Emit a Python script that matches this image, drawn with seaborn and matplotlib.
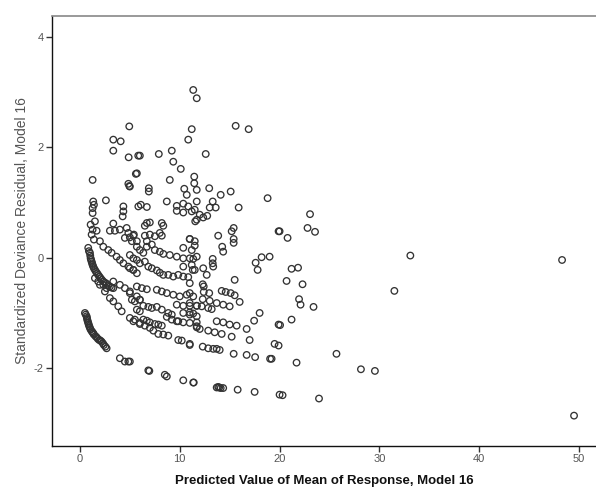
import matplotlib
matplotlib.use("Agg")
import matplotlib.pyplot as plt
import seaborn as sns
import pandas as pd

# ---- data: (predicted mean, standardized deviance residual) ----
top_region = [
    (4.94, 2.38), (3.34, 2.14), (4.08, 2.11), (3.34, 1.94), (4.88, 1.82), (5.84, 1.85),
    (11.35, 3.04), (11.7, 2.89), (11.2, 2.33), (10.85, 2.14), (6.0, 1.85), (7.9, 1.88),
    (9.2, 1.94), (9.35, 1.74), (10.1, 1.61), (5.7, 1.53), (9.0, 1.41), (11.45, 1.47),
    (11.45, 1.35), (11.7, 1.23), (10.45, 1.25), (10.7, 1.14), (5.0, 1.29), (6.9, 1.26),
    (6.9, 1.2), (6.1, 0.96), (6.7, 0.92), (8.7, 1.02), (9.7, 0.94), (10.35, 0.98),
    (10.85, 0.93), (11.7, 1.02), (15.6, 2.39), (16.9, 2.33), (12.6, 1.88), (12.95, 1.26),
    (14.1, 1.14), (15.1, 1.2), (18.8, 1.08), (13.3, 1.02), (13.0, 0.91), (13.6, 0.91),
    (11.5, 0.87), (15.9, 0.91), (12.0, 0.78), (12.35, 0.73), (12.75, 0.76), (11.55, 0.66),
    (15.4, 0.54), (15.2, 0.48), (15.4, 0.34), (15.4, 0.27), (13.85, 0.4), (19.9, 0.48),
    (11.0, 0.34), (11.5, 0.22), (14.25, 0.2),
]
mid_region = [
    (14.35, 0.11), (11.35, -0.02), (11.3, -0.22), (11.5, -0.22), (12.35, -0.19), (12.7, -0.31),
    (13.3, -0.02), (13.3, -0.1), (13.35, -0.16), (18.2, 0.01), (17.6, -0.09), (17.8, -0.22),
    (15.5, -0.4), (11.0, -0.46), (12.3, -0.48), (12.4, -0.52), (11.0, -0.64), (12.4, -0.62),
    (12.95, -0.64), (14.2, -0.6), (14.6, -0.62), (15.1, -0.64), (15.5, -0.68), (16.0, -0.8),
    (12.3, -0.75), (13.0, -0.78), (13.7, -0.82), (14.35, -0.85), (15.0, -0.88), (11.0, -0.82),
    (11.7, -0.87), (12.2, -0.88), (12.85, -0.91), (13.2, -0.93), (11.0, -0.99), (11.35, -1.01),
    (18.0, -1.0), (17.45, -1.14), (16.7, -1.29), (17.0, -1.49), (13.7, -1.15), (14.35, -1.17),
    (15.0, -1.21), (15.7, -1.23), (11.7, -1.26), (12.0, -1.29), (12.85, -1.32), (13.5, -1.35),
    (14.2, -1.38), (15.2, -1.43), (11.0, -1.58), (12.3, -1.61), (12.85, -1.64), (13.35, -1.65),
    (13.7, -1.65), (14.0, -1.67), (15.4, -1.74), (16.7, -1.76), (17.55, -1.8), (19.05, -1.83),
    (19.5, -1.56), (19.9, -1.59), (11.4, -2.26), (13.7, -2.35), (13.85, -2.34), (13.95, -2.35),
    (14.1, -2.36), (14.35, -2.36), (15.8, -2.39), (17.5, -2.43), (20.0, -2.48), (19.9, -1.21),
]
right_region = [
    (23.05, 0.79), (20.0, 0.48), (20.8, 0.36), (22.8, 0.54), (23.55, 0.47), (33.1, 0.04),
    (48.3, -0.04), (19.0, 0.02), (21.2, -0.2), (21.85, -0.18), (20.7, -0.42), (22.3, -0.48),
    (31.5, -0.6), (21.95, -0.75), (22.1, -0.85), (23.4, -0.89), (21.2, -1.12), (20.05, -1.22),
    (19.2, -1.83), (21.7, -1.9), (25.7, -1.74), (28.15, -2.02), (29.55, -2.05), (20.3, -2.49),
    (23.95, -2.55), (49.5, -2.86),
]
center_region = [
    (9.7, 0.85), (10.35, 0.82), (11.2, 0.84), (11.7, 0.69), (6.7, 0.63), (7.0, 0.64),
    (6.5, 0.58), (8.2, 0.63), (8.35, 0.58), (8.0, 0.45), (5.35, 0.4), (6.5, 0.4),
    (7.0, 0.42), (7.5, 0.39), (8.2, 0.4), (11.0, 0.34), (11.5, 0.3), (6.7, 0.3),
    (6.7, 0.2), (7.2, 0.24), (5.7, 0.2), (6.0, 0.14), (6.35, 0.09), (7.5, 0.14),
    (8.0, 0.11), (8.35, 0.07), (9.0, 0.05), (9.7, 0.02), (10.35, -0.01), (11.0, -0.01),
    (11.7, 0.02), (10.35, 0.18), (11.2, 0.14), (5.0, 0.05), (5.35, -0.01), (5.7, -0.04),
    (6.0, -0.1), (6.5, -0.07), (6.85, -0.16), (7.2, -0.19), (7.7, -0.23), (8.0, -0.27),
    (8.35, -0.31), (8.85, -0.31), (9.35, -0.34), (9.85, -0.31), (10.35, -0.34), (10.85, -0.35),
    (10.35, -0.16), (11.2, -0.13), (5.0, -0.19), (5.35, -0.22), (5.7, -0.52), (6.2, -0.55),
    (6.7, -0.57), (7.7, -0.58), (8.2, -0.61), (8.7, -0.64), (9.35, -0.67), (10.0, -0.7),
    (10.7, -0.67), (11.35, -0.7), (5.0, -0.64), (5.2, -0.76), (5.5, -0.79), (6.0, -0.76),
    (6.35, -0.87), (6.85, -0.89), (7.2, -0.91), (7.7, -0.89), (8.2, -0.94), (8.85, -1.0),
    (9.2, -1.03), (9.7, -0.85), (10.35, -0.87), (11.0, -0.87), (11.7, -0.87), (10.35, -1.0),
    (11.0, -1.03), (11.7, -1.06), (5.7, -0.94), (6.0, -0.97), (6.35, -1.12), (6.7, -1.14),
    (7.0, -1.17), (7.5, -1.2), (7.85, -1.21), (8.2, -1.23), (8.7, -1.07), (9.2, -1.12),
    (9.7, -1.15), (10.35, -1.17), (11.0, -1.18), (11.7, -1.17), (5.0, -1.09), (5.35, -1.15),
    (6.0, -1.2), (6.5, -1.23), (7.0, -1.27), (7.35, -1.32), (7.85, -1.38), (8.35, -1.39),
    (8.85, -1.41), (9.85, -1.49), (10.2, -1.5), (11.0, -1.56), (11.7, -1.24), (9.85, -1.15),
    (5.0, -1.88), (6.85, -2.04), (6.95, -2.05), (8.5, -2.12), (8.7, -2.15), (10.35, -2.22),
    (11.35, -2.26),
]
left_region = [
    (1.27, 1.41), (5.6, 1.52), (4.85, 1.34), (4.95, 1.3), (1.33, 1.02), (1.4, 0.96),
    (1.27, 0.9), (1.27, 0.81), (2.6, 1.04), (4.35, 0.93), (4.35, 0.84), (4.28, 0.75),
    (5.85, 0.93), (1.5, 0.66), (1.07, 0.6), (1.27, 0.51), (1.67, 0.49), (1.17, 0.42),
    (1.4, 0.33), (3.34, 0.62), (3.0, 0.49), (3.5, 0.49), (4.0, 0.51), (4.68, 0.54),
    (4.85, 0.45), (4.5, 0.36), (5.0, 0.37), (5.4, 0.42), (5.7, 0.3), (5.2, 0.3),
    (0.83, 0.18), (1.0, 0.09), (1.07, -0.01), (1.17, -0.07), (1.27, -0.13), (1.4, -0.19),
    (1.6, -0.25), (1.83, -0.31), (2.07, -0.37), (2.34, -0.43), (2.67, -0.47), (3.0, -0.52),
    (3.34, -0.55), (2.0, 0.3), (2.34, 0.2), (2.84, 0.14), (3.17, 0.09), (3.67, 0.02),
    (4.0, -0.04), (4.35, -0.1), (4.85, -0.16), (5.35, -0.22), (5.7, -0.28), (1.5, -0.37),
    (1.83, -0.43), (2.34, -0.49), (2.67, -0.55), (2.0, -0.49), (2.5, -0.61), (3.0, -0.73),
    (3.34, -0.79), (3.84, -0.88), (4.18, -0.97), (3.34, -0.43), (4.0, -0.49), (4.5, -0.55),
    (5.0, -0.61), (5.7, -0.7), (6.0, -0.76), (5.5, -1.12), (6.0, -1.18),
    (0.9, 0.12), (1.03, 0.04), (1.12, -0.04), (1.22, -0.1), (1.33, -0.16), (1.5, -0.22),
    (1.72, -0.28), (1.95, -0.34), (2.2, -0.4), (2.5, -0.45), (2.84, -0.5), (3.17, -0.54),
]
low_curve = [
    (0.5, -1.0), (0.67, -1.06), (0.73, -1.12), (0.83, -1.18), (0.93, -1.24), (1.07, -1.3),
    (1.27, -1.35), (1.4, -1.39), (1.67, -1.44), (1.93, -1.49), (2.17, -1.52), (2.4, -1.58),
    (2.67, -1.64), (4.0, -1.82), (4.5, -1.88), (4.85, -1.88),
    (0.58, -1.03), (0.7, -1.09), (0.78, -1.15), (0.88, -1.21), (1.0, -1.27), (1.17, -1.33),
    (1.33, -1.37), (1.55, -1.42), (1.8, -1.47), (2.05, -1.5), (2.3, -1.55), (2.55, -1.61),
]

groups = [top_region, mid_region, right_region, center_region, left_region, low_curve]
pred = [p[0] for g in groups for p in g]
resid = [p[1] for g in groups for p in g]
df = pd.DataFrame({"pred": pred, "resid": resid})

x_ticks = [0, 10, 20, 30, 40, 50]
y_ticks = [-2, 0, 2, 4]

sns.set_style("white")
plt.rcParams["font.family"] = ["Liberation Sans", "DejaVu Sans"]
plt.rcParams["axes.unicode_minus"] = False

fig = plt.figure(figsize=(5.96, 4.87), dpi=100)
ax = fig.add_axes([52 / 596, 41 / 487, 544 / 596, 430 / 487])

sns.scatterplot(data=df, x="pred", y="resid", ax=ax, marker="o", s=22,
                facecolors="none", edgecolor="#333333", linewidth=0.95, legend=False)

ax.set_xlim(-2.8, 51.7)
ax.set_ylim(-3.41, 4.38)
ax.set_xticks(x_ticks)
ax.set_yticks(y_ticks)
ax.tick_params(axis="both", which="major", direction="out", length=4, width=1,
               color="#333333", labelsize=8, labelcolor="#555555", pad=2,
               bottom=True, left=True, top=False, right=False)
for side in ["left", "bottom"]:
    ax.spines[side].set_color("#111111")
    ax.spines[side].set_linewidth(1.0)
ax.spines["top"].set_color("#888888")
ax.spines["top"].set_linewidth(1.2)
ax.spines["right"].set_visible(False)

ax.set_xlabel("Predicted Value of Mean of Response, Model 16", fontsize=9.5,
              fontweight="bold", color="#111111", labelpad=8)
ax.set_ylabel("Standardized Deviance Residual, Model 16", fontsize=10,
              color="#555555", labelpad=3)

fig.savefig("out.png", dpi=100)
